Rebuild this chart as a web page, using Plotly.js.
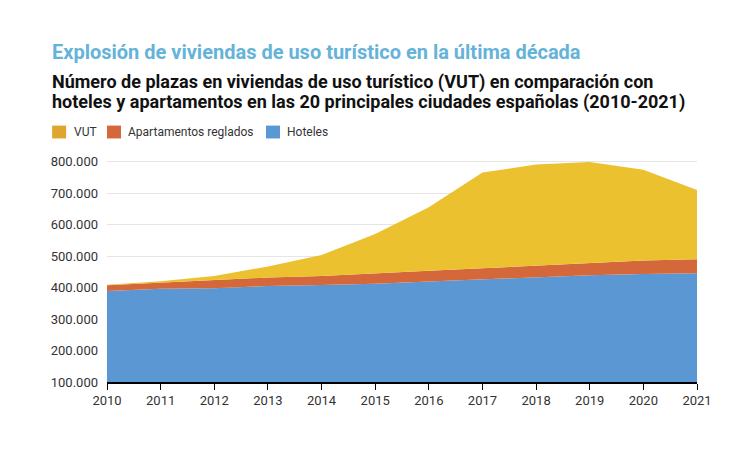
<!DOCTYPE html>
<html>
<head>
<meta charset="utf-8">
<script src="https://cdn.plot.ly/plotly-3.0.1.min.js"></script>
<style>html,body{margin:0;padding:0;background:#fff;}#chart{width:750px;height:458px;}</style>
</head>
<body>
<div id="chart"></div>
<script>
const years = [2010, 2011, 2012, 2013, 2014, 2015, 2016, 2017, 2018, 2019, 2020, 2021];
const hoteles = [389000, 396000, 398000, 405000, 408000, 412000, 419000, 426000, 433000, 439000, 443000, 445000];
const apartamentos = [18000, 20000, 25000, 27000, 29000, 32000, 34000, 35000, 37000, 39000, 43000, 45000];
const vut = [2000, 4000, 14000, 35000, 66000, 126000, 202000, 304000, 321000, 321000, 288000, 220000];
const yTicks = [100000, 200000, 300000, 400000, 500000, 600000, 700000, 800000];
const legendNames = ['VUT', 'Apartamentos reglados', 'Hoteles'];
const legendColors = ['#E0A52F', '#D5683A', '#5B97D3'];

const font = "Roboto, 'Liberation Sans', Arial, sans-serif";

const traces = [
  {x: years, y: hoteles, name: 'Hoteles', type: 'scatter', mode: 'lines', stackgroup: 'one',
   line: {width: 0, color: '#5B97D3'}, fillcolor: '#5B97D3'},
  {x: years, y: apartamentos, name: 'Apartamentos reglados', type: 'scatter', mode: 'lines', stackgroup: 'one',
   line: {width: 0, color: '#D5683A'}, fillcolor: '#D5683A'},
  {x: years, y: vut, name: 'VUT', type: 'scatter', mode: 'lines', stackgroup: 'one',
   line: {width: 0, color: '#EBC12F'}, fillcolor: '#EBC12F'}
];

// custom legend (square swatches + labels), positioned in paper coordinates
const legX = [-0.093, 0.0, 0.2695];   // swatch left edges
const legY = 1.126;
const shapes = [];
const annotations = [];
legendNames.forEach((n, i) => {
  shapes.push({type: 'rect', xref: 'paper', yref: 'paper', x0: legX[i], x1: legX[i] + 0.0237,
               y0: legY - 0.029, y1: legY + 0.029, fillcolor: legendColors[i], line: {width: 0}});
  annotations.push({text: n, xref: 'paper', yref: 'paper', x: legX[i] + 0.033, y: legY,
                    xanchor: 'left', yanchor: 'middle', showarrow: false,
                    font: {family: font, size: 12, color: '#333'}});
});

annotations.push(
  {text: 'Explosión de viviendas de uso turístico en la última década', xref: 'paper', yref: 'paper',
   x: -0.096, y: 1.486, xanchor: 'left', yanchor: 'middle', showarrow: false,
   font: {family: font, size: 20, color: '#65B3D8', weight: 'bold'}},
  {text: 'Número de plazas en viviendas de uso turístico (VUT) en comparación con',
   xref: 'paper', yref: 'paper', x: -0.096, y: 1.351, xanchor: 'left', yanchor: 'middle',
   showarrow: false, font: {family: font, size: 18, color: '#111', weight: 'bold'}},
  {text: 'hoteles y apartamentos en las 20 principales ciudades españolas (2010-2021)',
   xref: 'paper', yref: 'paper', x: -0.096, y: 1.261, xanchor: 'left', yanchor: 'middle',
   showarrow: false, font: {family: font, size: 18, color: '#111', weight: 'bold'}}
);

const layout = {
  width: 750, height: 458,
  margin: {l: 107, r: 53, t: 160, b: 76},
  paper_bgcolor: '#fff', plot_bgcolor: '#fff',
  separators: ',.',
  font: {family: font, color: '#222', size: 13},
  showlegend: false,
  xaxis: {range: [2010, 2021], tickvals: years, ticktext: years.map(String), showgrid: false,
          zeroline: false, showline: true, linecolor: '#000', linewidth: 1.5,
          ticks: 'outside', ticklen: 6, tickcolor: '#000', tickfont: {size: 13, color: '#333'}},
  yaxis: {range: [100000, 805000], tickvals: yTicks, tickformat: ',d', showgrid: true,
          gridcolor: 'rgba(0,0,0,0.10)', gridwidth: 1, zeroline: false, showline: false,
          layer: 'above traces', ticks: '', ticklabelstandoff: 8, tickfont: {size: 13, color: '#333'}},
  shapes: shapes,
  annotations: annotations
};

Plotly.newPlot('chart', traces, layout, {displayModeBar: false, staticPlot: true});
</script>
</body>
</html>
